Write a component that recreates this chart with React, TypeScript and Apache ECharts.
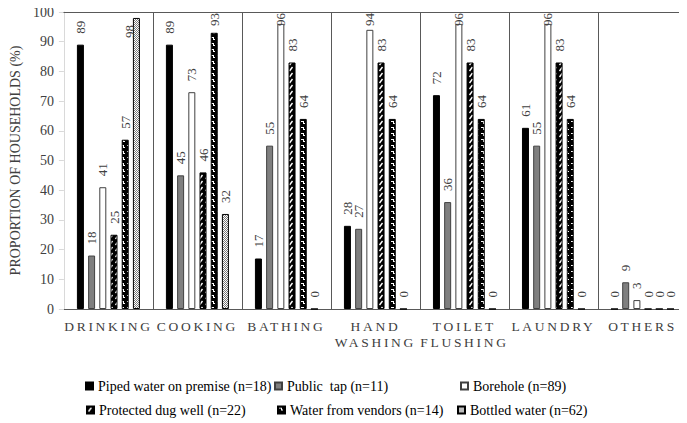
import { useEffect, useRef } from 'react';
import * as echarts from 'echarts';

const categories = ['DRINKING', 'COOKING', 'BATHING', 'HAND\nWASHING', 'TOILET\nFLUSHING', 'LAUNDRY', 'OTHERS'];
const seriesNames = [
  'Piped water on premise (n=18)',
  'Public  tap (n=11)',
  'Borehole (n=89)',
  'Protected dug well (n=22)',
  'Water from vendors (n=14)',
  'Bottled water (n=62)',
];
const piped = [89, 89, 17, 28, 72, 61, 0];
const publicTap = [18, 45, 55, 27, 36, 55, 9];
const borehole = [41, 73, 96, 94, 96, 96, 3];
const dugWell = [25, 46, 83, 83, 83, 83, 0];
const vendors = [57, 93, 64, 64, 64, 64, 0];
const bottled = [98, 32, 0, 0, 0, 0, 0];
const yMin = 0;
const yMax = 100;
const yInterval = 10;
const yAxisTitle = 'PROPORTION OF HOUSEHOLDS (%)';

const FONT = "'Liberation Serif', 'Times New Roman', serif";
const PLOT_TOP = 12;

function makePattern(w: number, h: number, draw: (ctx: CanvasRenderingContext2D) => void) {
  const c = document.createElement('canvas');
  c.width = w;
  c.height = h;
  const ctx = c.getContext('2d') as CanvasRenderingContext2D;
  draw(ctx);
  return { image: c, repeat: 'repeat', imageWidth: w, imageHeight: h } as any;
}

export default function App() {
  const ref = useRef<HTMLDivElement>(null);
  useEffect(() => {
    if (!ref.current) return;
    const el = ref.current;
    const chart = echarts.init(el, null, { renderer: 'svg' });

    const dugPattern = makePattern(6, 6, (ctx) => {
      ctx.fillStyle = '#000';
      ctx.fillRect(0, 0, 6, 6);
      ctx.strokeStyle = '#fff';
      ctx.lineWidth = 1.4;
      ctx.beginPath();
      ctx.moveTo(1.5, 5);
      ctx.lineTo(4.5, 1);
      ctx.stroke();
    });
    const vendorPattern = makePattern(6, 6, (ctx) => {
      ctx.fillStyle = '#000';
      ctx.fillRect(0, 0, 6, 6);
      ctx.fillStyle = '#fff';
      ctx.fillRect(1, 1, 3, 1);
      ctx.fillRect(3, 1, 1, 3);
      ctx.fillRect(3, 3, 2, 1);
    });
    const bottlePattern = makePattern(2, 2, (ctx) => {
      ctx.fillStyle = '#ffffff';
      ctx.fillRect(0, 0, 2, 2);
      ctx.fillStyle = '#7a7a7a';
      ctx.fillRect(0, 0, 1, 1);
      ctx.fillRect(1, 1, 1, 1);
    });

    const dataSets = [piped, publicTap, borehole, dugWell, vendors, bottled];
    const styles = [
      { color: '#000000', borderColor: '#000000', borderWidth: 1 },
      { color: '#7f7f7f', borderColor: '#404040', borderWidth: 1 },
      { color: '#ffffff', borderColor: '#404040', borderWidth: 1 },
      { color: dugPattern, borderColor: '#000000', borderWidth: 1 },
      { color: vendorPattern, borderColor: '#000000', borderWidth: 1 },
      { color: bottlePattern, borderColor: '#000000', borderWidth: 1 },
    ];

    const series = dataSets.map((d, i) => ({
      type: 'bar',
      name: seriesNames[i],
      data: d,
      barWidth: 7,
      barGap: '60%',
      itemStyle: styles[i],
      label: {
        show: true,
        position: 'top',
        rotate: 90,
        align: 'left',
        verticalAlign: 'middle',
        distance: 11,
        fontFamily: FONT,
        fontSize: 13,
        color: '#404040',
      },
      labelLayout: (p: any) => {
        const r = p.labelRect;
        const bar = p.rect;
        if (!r || r.y >= PLOT_TOP) return {};
        // Label would cross the plot top: pull it down, or set it beside the bar when there is no room.
        if (PLOT_TOP + r.height > bar.y + 2) {
          return { x: bar.x - 3.5, y: bar.y + 20 };
        }
        return { y: PLOT_TOP + 1 + r.height };
      },
    }));

    const legendPos = [
      { left: 85, top: 379 },
      { left: 274, top: 379 },
      { left: 460, top: 379 },
      { left: 86, top: 403 },
      { left: 277, top: 403 },
      { left: 457, top: 403 },
    ];

    chart.setOption({
      animation: false,
      textStyle: { fontFamily: FONT },
      grid: { left: 63, right: -10, top: PLOT_TOP, bottom: 114, containLabel: false },
      legend: seriesNames.map((n, i) => ({
        data: [n],
        left: legendPos[i].left,
        top: legendPos[i].top,
        itemWidth: 7,
        itemHeight: 7,
        padding: 0,
        icon: 'rect',
        selectedMode: false,
        textStyle: { fontFamily: FONT, fontSize: 14, color: '#000' },
      })),
      xAxis: [
        {
          type: 'category',
          data: categories,
          position: 'bottom',
          axisLine: { lineStyle: { color: '#595959', width: 1 } },
          axisTick: { show: false },
          axisLabel: {
            interval: 0,
            fontFamily: FONT,
            fontSize: 13.5,
            color: '#404040',
            margin: 9,
            lineHeight: 16,
          },
          splitLine: { show: true, showMinLine: false, lineStyle: { color: '#595959', width: 1 } },
        },
        {
          type: 'category',
          data: categories,
          position: 'top',
          axisLine: { lineStyle: { color: '#595959', width: 1 } },
          axisTick: { show: false },
          axisLabel: { show: false },
          splitLine: { show: false },
          z: 5,
        },
      ],
      yAxis: {
        type: 'value',
        min: yMin,
        max: yMax,
        interval: yInterval,
        name: yAxisTitle,
        nameLocation: 'middle',
        nameGap: 35,
        nameTextStyle: { fontFamily: FONT, fontSize: 14, color: '#404040' },
        axisLine: { show: true, lineStyle: { color: '#d9d9d9' } },
        axisTick: { show: true, length: 5, lineStyle: { color: '#d9d9d9' } },
        axisLabel: { fontFamily: FONT, fontSize: 14, color: '#404040', margin: 10 },
        splitLine: { show: false },
      },
      series,
    });

    const lines = new Set<string>();
    categories.forEach((c) => c.split('\n').forEach((s) => lines.add(s)));
    const spaceOut = () => {
      el.querySelectorAll('text').forEach((t) => {
        if (lines.has((t.textContent || '').trim())) {
          (t as SVGTextElement).style.letterSpacing = '2.7px';
        }
      });
    };
    spaceOut();
    chart.on('finished', spaceOut);

    return () => chart.dispose();
  }, []);
  return <div ref={ref} style={{ width: 687, height: 423, marginLeft: -8, marginTop: -8 }} />;
}
